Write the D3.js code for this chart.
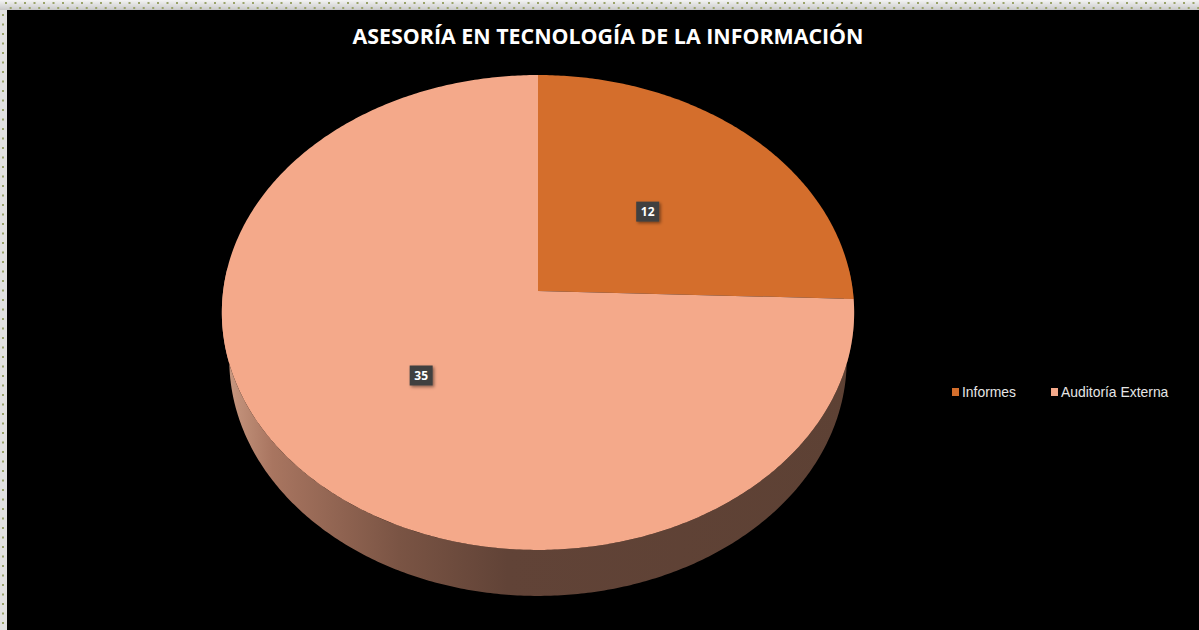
<!DOCTYPE html>
<html>
<head>
<meta charset="utf-8">
<script src="https://cdn.jsdelivr.net/npm/d3@7"></script>
<style>
  html, body { margin: 0; padding: 0; background: #000; }
  svg { display: block; }
</style>
</head>
<body>
<div id="chart"></div>
<script>
"use strict";

const title = "ASESORÍA EN TECNOLOGÍA DE LA INFORMACIÓN";
const categories = ["Informes", "Auditoría Externa"];
const values = [12, 35];
const topColors = ["#d46e2c", "#f4a98a"];

const W = 1199;
const H = 630;

// perspective view of the pie disc
const view = {
  cx: 538, cy: 291, f: 2311, dist: 7.34,
  cos: 0.664, sin: 0.748, thick: 0.235,
};

// disc point at angle a (clockwise from 12 o'clock), radius r, height y
function project(a, r, y) {
  const x = r * Math.sin(a);
  const w = r * Math.cos(a);
  const depth = view.dist + w * view.cos - y * view.sin;
  return [
    view.cx + (view.f * x) / depth,
    view.cy - (view.f * (w * view.sin + y * view.cos)) / depth,
  ];
}

function arcPoints(a0, a1, y) {
  const n = Math.max(2, Math.ceil(Math.abs(a1 - a0) / 0.01));
  return d3.range(n + 1).map((i) => project(a0 + ((a1 - a0) * i) / n, 1, y));
}

const svg = d3.select("#chart").append("svg")
  .attr("width", W).attr("height", H);

// frame with dotted strip
const defs = svg.append("defs");
const frameGrad = defs.append("linearGradient")
  .attr("id", "frameGrad").attr("x1", 0).attr("y1", 0).attr("x2", 0).attr("y2", 1);
frameGrad.append("stop").attr("offset", 0).attr("stop-color", "#f4f4f4");
frameGrad.append("stop").attr("offset", 1).attr("stop-color", "#c8c8c8");

svg.append("rect").attr("width", W).attr("height", H).attr("fill", "#e2e2e2");
svg.append("rect").attr("width", W).attr("height", 10).attr("fill", "url(#frameGrad)");
svg.append("rect").attr("x", 7).attr("y", 10).attr("width", W - 7).attr("height", H - 10)
  .attr("fill", "#000");

const dots = svg.append("g").attr("fill", "#9aa36a");
for (let x = 5; x < W; x += 9.5) {
  dots.append("rect").attr("x", x).attr("y", 2).attr("width", 2).attr("height", 2);
  dots.append("rect").attr("x", x + 4.7).attr("y", 7).attr("width", 2).attr("height", 2);
}
for (let y = 14; y < H; y += 9.5) {
  dots.append("rect").attr("x", 2).attr("y", y).attr("width", 2).attr("height", 2);
}

// title
svg.append("text")
  .attr("x", 608).attr("y", 44)
  .attr("text-anchor", "middle")
  .attr("font-family", "'Open Sans', sans-serif")
  .attr("font-weight", "bold")
  .attr("font-size", 22)
  .attr("fill", "#fff")
  .attr("textLength", 511)
  .attr("lengthAdjust", "spacingAndGlyphs")
  .text(title);

// side shading
const sideGrad = defs.append("linearGradient")
  .attr("id", "sideGrad").attr("gradientUnits", "userSpaceOnUse")
  .attr("x1", 222).attr("x2", 855).attr("y1", 0).attr("y2", 0);
[[0, "#cc9c84"], [0.08, "#a87560"], [0.28, "#7a5444"], [0.45, "#614337"], [1, "#5d4134"]]
  .forEach(([o, c]) => sideGrad.append("stop").attr("offset", o).attr("stop-color", c));

const pie = d3.pie().sort(null).value((d) => d);
const slices = pie(values);
const line = d3.line();

const sideColors = ["#7a3d17", "url(#sideGrad)"];
const frontA0 = Math.PI / 2 - 0.1;
const frontA1 = (3 * Math.PI) / 2 + 0.1;

// side wall (only the front half shows)
svg.append("g").selectAll("path")
  .data(slices)
  .enter()
  .append("path")
  .attr("fill", (d, i) => sideColors[i])
  .attr("d", (d) => {
    const a0 = Math.max(d.startAngle, frontA0);
    const a1 = Math.min(d.endAngle, frontA1);
    if (a1 <= a0) return null;
    const pts = arcPoints(a0, a1, 0).concat(arcPoints(a1, a0, -view.thick));
    return line(pts) + "Z";
  });

// top face
svg.append("g").selectAll("path")
  .data(slices)
  .enter()
  .append("path")
  .attr("fill", (d, i) => topColors[i])
  .attr("d", (d) => {
    const pts = [project(0, 0, 0)].concat(arcPoints(d.startAngle, d.endAngle, 0));
    return line(pts) + "Z";
  });

// data labels
const shadow = defs.append("filter").attr("id", "shadow")
  .attr("x", "-30%").attr("y", "-30%").attr("width", "160%").attr("height", "160%");
shadow.append("feDropShadow").attr("dx", 1.5).attr("dy", 1.5).attr("stdDeviation", 1.5)
  .attr("flood-color", "#000").attr("flood-opacity", 0.45);

const labels = svg.append("g").selectAll("g")
  .data(slices)
  .enter()
  .append("g")
  .attr("transform", (d) => {
    const p = project((d.startAngle + d.endAngle) / 2, 0.5, 0);
    return `translate(${p[0]},${p[1]})`;
  });

labels.append("rect")
  .attr("x", -11.5).attr("y", -10).attr("width", 23).attr("height", 20)
  .attr("fill", "#404040")
  .attr("filter", "url(#shadow)");

labels.append("text")
  .attr("text-anchor", "middle")
  .attr("y", 4.5)
  .attr("font-family", "'Open Sans', sans-serif")
  .attr("font-weight", "bold")
  .attr("font-size", 12)
  .attr("fill", "#fff")
  .text((d) => d.data);

// legend
const legendX = [952, 1051];
const legend = svg.append("g").selectAll("g")
  .data(categories)
  .enter()
  .append("g")
  .attr("transform", (d, i) => `translate(${legendX[i]},388)`);

legend.append("rect")
  .attr("width", 7).attr("height", 8)
  .attr("fill", (d, i) => topColors[i]);

legend.append("text")
  .attr("x", 10).attr("y", 9)
  .attr("font-family", "'Liberation Sans', Arial, sans-serif")
  .attr("font-size", 13.9)
  .attr("fill", "#e6e6e6")
  .text((d) => d);
</script>
</body>
</html>
